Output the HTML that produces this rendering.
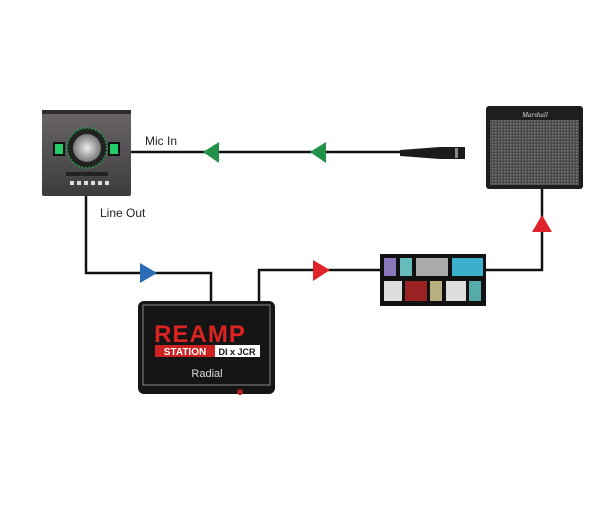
<!DOCTYPE html>
<html><head><style>
body{margin:0;background:#fff;width:610px;height:500px;overflow:hidden;font-family:"Liberation Sans",sans-serif}
</style></head><body>
<svg width="610" height="500" viewBox="0 0 610 500" xmlns="http://www.w3.org/2000/svg">
<defs>
<linearGradient id="ua" x1="0" y1="0" x2="0" y2="1"><stop offset="0" stop-color="#6a666a"/><stop offset="1" stop-color="#3e3b3f"/></linearGradient>
<radialGradient id="knob"><stop offset="0" stop-color="#eee"/><stop offset="1" stop-color="#777"/></radialGradient>
<pattern id="grille" width="3" height="3" patternUnits="userSpaceOnUse"><rect width="3" height="3" fill="#4a4a4a"/><rect width="1.5" height="1.5" fill="#7a7a7a"/></pattern>
</defs>
<g stroke="#111" stroke-width="2.5" fill="none">
<line x1="131" y1="152" x2="400" y2="152"/>
<polyline points="86,196 86,273 211,273 211,301"/>
<polyline points="259,301 259,270 380,270"/>
<polyline points="486,270 542,270 542,189"/>
</g>
<polygon points="203,152 219,142 219,163" fill="#22924a"/>
<polygon points="310,152 326,142 326,163" fill="#22924a"/>
<polygon points="157,273 140,263 140,283" fill="#2a6cb5"/>
<polygon points="330,270 313,260 313,281" fill="#e0222a"/>
<polygon points="542,215 532,232 552,232" fill="#e0222a"/>
<!-- interface -->
<rect x="42" y="110" width="89" height="86" rx="2" fill="url(#ua)"/>
<rect x="42" y="110" width="89" height="4" fill="#2e2c2e"/>
<circle cx="87" cy="148" r="20" fill="#222" stroke="#2a8a4a" stroke-width="2" stroke-dasharray="2 1.5"/>
<circle cx="87" cy="148" r="14" fill="url(#knob)"/>
<rect x="53" y="142" width="12" height="14" fill="#111"/>
<rect x="55" y="144" width="8" height="10" fill="#2c6"/>
<rect x="108" y="142" width="12" height="14" fill="#111"/>
<rect x="110" y="144" width="8" height="10" fill="#2c6"/>
<rect x="66" y="172" width="42" height="4" fill="#222"/>
<g fill="#ddd"><rect x="70" y="181" width="4" height="4"/><rect x="77" y="181" width="4" height="4"/><rect x="84" y="181" width="4" height="4"/><rect x="91" y="181" width="4" height="4"/><rect x="98" y="181" width="4" height="4"/><rect x="105" y="181" width="4" height="4"/></g>
<!-- mic -->
<path d="M400,150 L440,147 L465,147 L465,159 L440,159 L400,156 Z" fill="#1c1c1c"/>
<rect x="455" y="148" width="3" height="10" fill="#888"/>
<!-- amp -->
<rect x="486" y="106" width="97" height="83" rx="3" fill="#1e1e1e"/>
<rect x="490" y="120" width="89" height="65" fill="url(#grille)"/>
<text x="535" y="117" font-size="7" font-style="italic" fill="#ddd" text-anchor="middle" font-family="Liberation Serif,serif">Marshall</text>
<!-- pedalboard -->
<rect x="380" y="254" width="106" height="52" fill="#111"/>
<rect x="384" y="258" width="12" height="18" fill="#8877bb"/>
<rect x="400" y="258" width="12" height="18" fill="#66bbbb"/>
<rect x="416" y="258" width="32" height="18" fill="#aaa"/>
<rect x="452" y="258" width="31" height="18" fill="#3ab0cc"/>
<rect x="384" y="281" width="18" height="20" fill="#ddd"/>
<rect x="405" y="281" width="22" height="20" fill="#992222"/>
<rect x="430" y="281" width="12" height="20" fill="#b8b080"/>
<rect x="446" y="281" width="20" height="20" fill="#ddd"/>
<rect x="469" y="281" width="12" height="20" fill="#5aa"/>
<!-- reamp -->
<rect x="138" y="301" width="137" height="93" rx="6" fill="#151515"/>
<rect x="143" y="305" width="127" height="80" fill="none" stroke="#888" stroke-width="1"/>
<text x="200" y="342" font-size="24" font-weight="bold" fill="#d22" text-anchor="middle" letter-spacing="1">REAMP</text>
<rect x="155" y="345" width="60" height="12" fill="#c22"/>
<text x="185" y="355" font-size="10" font-weight="bold" fill="#fff" text-anchor="middle">STATION</text>
<rect x="215" y="345" width="45" height="12" fill="#fff"/>
<text x="237" y="355" font-size="9" font-weight="bold" fill="#111" text-anchor="middle">DI x JCR</text>
<text x="207" y="377" font-size="11" fill="#ddd" text-anchor="middle">Radial</text>
<circle cx="240" cy="392" r="3" fill="#a22"/>
<text x="145" y="145" font-size="12" fill="#222">Mic In</text>
<text x="100" y="217" font-size="12" fill="#222">Line Out</text>
</svg>
</body></html>
